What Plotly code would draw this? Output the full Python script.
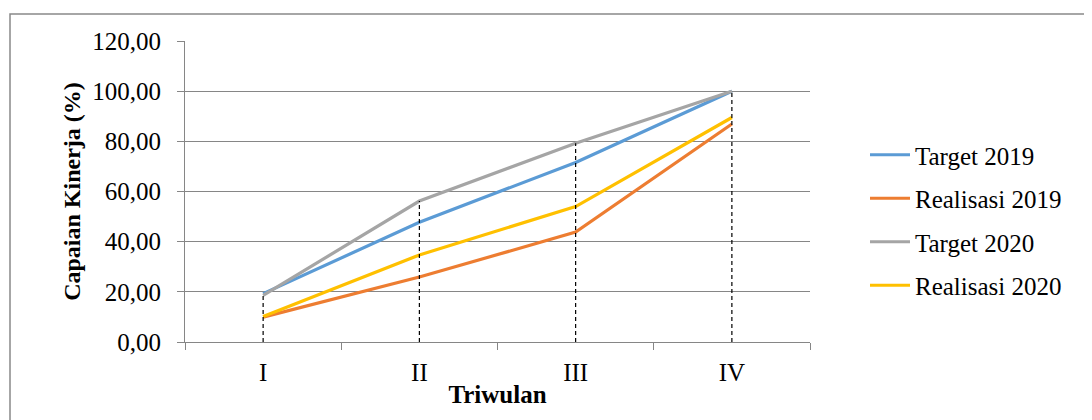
import plotly.graph_objects as go

categories = ["I", "II", "III", "IV"]
target_2019 = [19.3, 47.7, 71.6, 100.0]
realisasi_2019 = [9.9, 25.9, 43.8, 86.9]
target_2020 = [18.6, 56.2, 79.2, 100.0]
realisasi_2020 = [10.2, 34.7, 54.0, 89.5]
y_ticks = [0, 20, 40, 60, 80, 100, 120]

series = [
    ("Target 2019", target_2019, "#5B9BD5"),
    ("Realisasi 2019", realisasi_2019, "#ED7D31"),
    ("Target 2020", target_2020, "#A5A5A5"),
    ("Realisasi 2020", realisasi_2020, "#FFC000"),
]

OFF = 8  # page body margin
W, H = 1092 - OFF, 420 - OFF
L, T = 185 - OFF, 41 - OFF
R = W - (810 - OFF)
B = H - (342 - OFF)
pw, ph = W - L - R, H - T - B

def px(x):
    return (x - OFF - L) / pw

def py(y):
    return (H - B - (y - OFF)) / ph

FONT = "Liberation Serif"
fig = go.Figure()
for i, (name, vals, col) in enumerate(series):
    fig.add_trace(go.Scatter(x=categories, y=vals, name=name, mode="lines",
                             line=dict(color=col, width=3.2),
                             legendgroup=f"g{i}"))

# drop lines from the highest value of each category to the axis
dx, dy = [], []
for j, c in enumerate(categories):
    top = max(s[1][j] for s in series)
    dx += [c, c, None]
    dy += [0, top, None]
fig.add_trace(go.Scatter(x=dx, y=dy, mode="lines", showlegend=False,
                         line=dict(color="black", width=1.2, dash="4px,3px"),
                         hoverinfo="skip"))

fig.update_layout(
    width=W, height=H,
    margin=dict(l=L, r=R, t=T, b=B),
    paper_bgcolor="white", plot_bgcolor="white",
    separators=",.",
    font=dict(family=FONT, size=25, color="black"),
    legend=dict(x=px(865), y=py(132), xanchor="left", yanchor="top",
                tracegroupgap=8, font=dict(size=25), itemwidth=40,
                bgcolor="rgba(0,0,0,0)"),
    shapes=[dict(type="rect", xref="paper", yref="paper",
                 x0=px(10), x1=px(1110), y0=py(440), y1=py(14),
                 line=dict(color="#898989", width=1.5), layer="below")],
)
fig.update_xaxes(
    type="category", range=[-0.5, 3.5],
    showline=True, linecolor="#868686", linewidth=1,
    ticks="outside", tickson="boundaries", ticklen=7, tickcolor="#868686",
    showgrid=False, tickfont=dict(size=25), ticklabelstandoff=8,
    title=dict(text="<b>Triwulan</b>", font=dict(size=25), standoff=0),
)
fig.update_yaxes(
    range=[0, 120], tickvals=y_ticks, tickformat=".2f",
    showline=True, linecolor="#868686", linewidth=1,
    ticks="outside", ticklen=7, tickcolor="#868686",
    showgrid=True, gridcolor="#868686", gridwidth=1,
    zeroline=False, tickfont=dict(size=25), ticklabelstandoff=11,
    title=dict(text="<b>Capaian Kinerja (%)</b>", font=dict(size=24), standoff=4),
)
fig.write_html("out.html")
